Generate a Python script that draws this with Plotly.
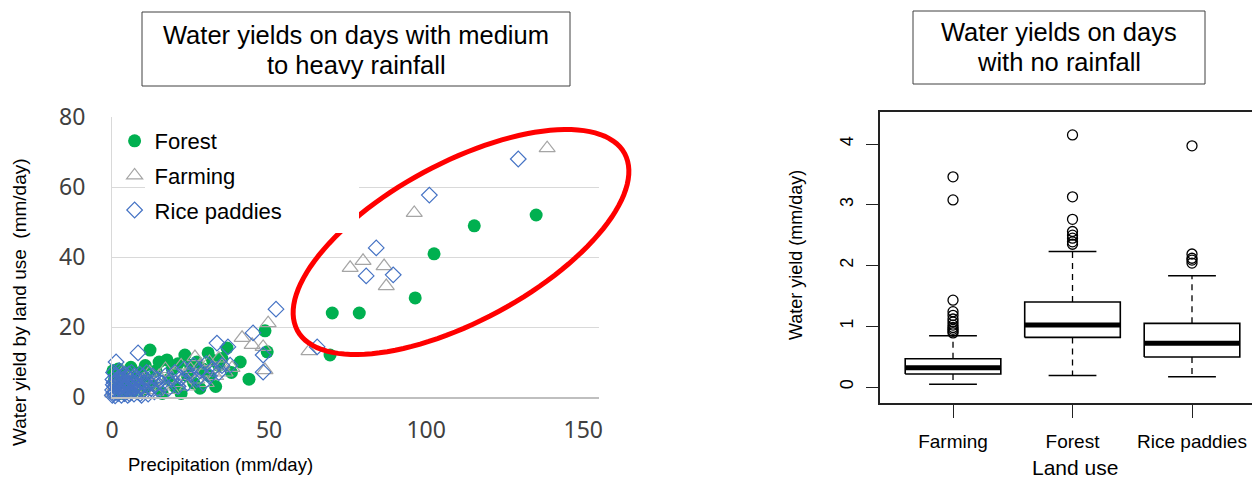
import math
import plotly.graph_objects as go

W, H = 1260, 480
OFF = 8  # page offset of the figure inside the browser window


def sx(px):
    return (px - OFF) / W


def sy(py):
    return 1 - (py - OFF) / H


# ---------------- Left chart data (precipitation vs water yield) ----------------
forest_precip = [0.3, 0.8, 1.5, 2.0, 2.6, 3.0, 4.0, 4.6, 5.2, 6.0, 6.6, 7.2, 8.0, 9.0, 10.0,
                 10.6, 11.2, 12.1, 13.0, 14.0, 15.0, 16.0, 17.5, 18.0, 19.2, 20.0, 21.0, 22.0,
                 23.2, 24.0, 25.0, 26.0, 27.0, 28.0, 29.0, 30.6, 31.0, 32.0, 33.0, 34.0, 35.0,
                 36.6, 38.0, 40.8, 43.6, 48.7, 49.4, 69.4, 70.1, 78.7, 96.5, 102.5, 115.3, 135.0]
forest_yield = [7.5, 5.0, 3.0, 8.0, 1.0, 6.0, 2.0, 7.0, 4.0, 8.5, 1.5, 5.5, 3.0, 7.0, 2.0,
                9.0, 5.0, 13.4, 3.5, 7.5, 10.0, 1.0, 10.6, 5.0, 8.0, 3.0, 9.5, 1.0,
                12.0, 6.0, 9.0, 4.0, 10.0, 2.5, 8.0, 12.6, 6.0, 10.5, 3.0, 9.0, 11.0,
                14.0, 7.0, 10.0, 5.1, 18.9, 12.9, 12.0, 24.0, 24.0, 28.3, 40.9, 48.9, 52.0]

farming_precip = [0.3, 1.0, 1.5, 2.0, 3.0, 3.5, 4.0, 5.0, 6.0, 7.0, 8.0, 9.0, 10.0, 11.0,
                  12.0, 13.0, 14.0, 15.0, 16.0, 17.0, 18.0, 19.0, 20.0, 21.0, 22.0, 23.0,
                  24.0, 25.0, 26.4, 27.0, 28.0, 29.0, 30.0, 31.0, 32.0, 33.0, 34.0, 35.0,
                  36.0, 38.2, 41.4, 44.6, 48.1, 48.7, 49.7, 62.7, 75.8, 79.9, 86.6, 87.3,
                  96.2, 138.5]
farming_yield = [1.0, 3.0, 0.5, 5.5, 2.0, 7.0, 0.8, 4.0, 2.0, 6.0, 1.0, 3.5, 5.0, 2.0,
                 7.0, 4.0, 1.5, 6.0, 3.0, 8.0, 5.0, 2.0, 7.0, 4.0, 9.0, 6.0,
                 3.0, 8.0, 11.4, 5.0, 9.0, 7.0, 4.0, 10.0, 8.0, 6.0, 11.0, 9.0,
                 7.0, 8.3, 16.9, 14.9, 14.3, 7.7, 21.1, 13.1, 36.9, 38.9, 37.4, 31.7,
                 52.6, 71.1]

rice_precip = [0.1, 0.2, 0.4, 0.3, 0.5, 1.0, 1.1, 0.9, 1.2, 1.3, 1.9, 2.1, 2.0, 2.2, 2.3,
               3.0, 2.9, 3.1, 3.2, 4.0, 4.1, 3.9, 4.2, 5.0, 5.1, 4.9, 5.2, 6.0, 6.1, 5.9,
               6.2, 7.0, 7.1, 6.9, 7.2, 8.0, 8.1, 7.9, 9.0, 9.1, 8.9, 10.0, 10.2, 9.9,
               0.6, 1.6, 2.6, 3.6, 4.6, 5.6, 6.6, 7.6, 8.6, 9.6, 0.7, 1.7, 3.4, 5.4, 7.4, 9.4,
               11.0, 11.5, 12.0, 12.5, 13.0, 13.5, 14.0, 14.5, 15.0, 16.0, 17.0, 18.0,
               19.0, 20.0, 21.0, 22.0, 23.0, 24.0, 25.0, 26.0, 27.0, 28.0, 29.0, 30.0,
               31.0, 32.0, 33.4, 34.0, 35.0, 36.9, 37.6, 1.3, 8.3, 44.9, 48.1, 48.1,
               52.2, 65.3, 80.9, 84.1, 89.5, 101.0, 129.3]
rice_yield = [0.5, 2.0, 3.5, 5.0, 7.0, 0.3, 1.5, 3.0, 4.5, 6.0, 1.0, 2.5, 4.0, 5.5, 7.5,
              0.5, 2.0, 3.5, 6.0, 1.0, 3.0, 4.5, 6.5, 0.5, 2.0, 4.0, 5.5, 1.5, 3.0, 5.0,
              7.0, 0.8, 2.5, 4.0, 6.0, 1.5, 3.5, 5.5, 1.0, 3.0, 6.5, 2.0, 4.0, 6.0,
              1.2, 2.2, 3.2, 1.6, 2.8, 0.9, 2.2, 3.1, 2.4, 4.8, 4.2, 5.2, 5.0, 6.6, 5.0, 0.5,
              7.0, 0.8, 4.0, 2.5, 6.0, 1.5, 3.5, 5.0, 2.0, 4.0, 6.0, 2.5,
              5.0, 7.0, 3.0, 5.5, 8.0, 4.0, 6.5, 9.0, 5.0, 7.5, 4.0, 9.5,
              6.0, 8.0, 15.4, 7.0, 9.0, 14.3, 9.1, 10.0, 12.6, 18.3, 12.0, 7.1,
              25.1, 14.3, 34.6, 42.6, 34.9, 57.7, 68.0]

# ---------------- Right chart data (box plot summary) ----------------
land_use = ["Farming", "Forest", "Rice paddies"]
box_lower = [0.045, 0.19, 0.17]
box_q1 = [0.215, 0.817, 0.494]
box_median = [0.318, 1.02, 0.719]
box_q3 = [0.466, 1.40, 1.048]
box_upper = [0.845, 2.23, 1.83]
outliers = [
    [3.46, 3.08, 1.43, 1.24, 1.18, 1.12, 1.07, 1.02, 0.98, 0.95, 0.92, 0.89],
    [4.15, 3.13, 2.76, 2.56, 2.50, 2.45, 2.39, 2.35],
    [3.97, 2.19, 2.12, 2.09, 2.04],
]

left_xticks = [0, 50, 100, 150]
left_yticks = [0, 20, 40, 60, 80]
right_yticks = [0, 1, 2, 3, 4]

GREEN = "#00B050"
GREY = "#A5A5A5"
BLUE = "#4472C4"
SANS = "Liberation Sans, Arial, sans-serif"
TICKF = "Noto Sans, Open Sans, sans-serif"

fig = go.Figure()

fig.add_trace(go.Scatter(x=forest_precip, y=forest_yield, mode="markers", name="Forest",
                         marker=dict(symbol="circle", size=13, color=GREEN),
                         cliponaxis=False, xaxis="x", yaxis="y", legendgroup="a"))
fig.add_trace(go.Scatter(x=farming_precip, y=farming_yield, mode="markers", name="Farming",
                         marker=dict(symbol="triangle-up-open", size=14, color=GREY,
                                     line=dict(width=1.2, color=GREY)),
                         cliponaxis=False, xaxis="x", yaxis="y", legendgroup="b"))
fig.add_trace(go.Scatter(x=rice_precip, y=rice_yield, mode="markers", name="Rice paddies",
                         marker=dict(symbol="diamond-open", size=12, color=BLUE,
                                     line=dict(width=1.2, color=BLUE)),
                         cliponaxis=False, xaxis="x", yaxis="y", legendgroup="c"))

# ---------------- Box plot (R style) ----------------
BW = 0.4
for i, name in enumerate(land_use):
    c = i + 1
    fig.add_trace(go.Scatter(x=[c, c, None, c, c],
                             y=[box_q3[i], box_upper[i], None, box_q1[i], box_lower[i]],
                             mode="lines", line=dict(color="black", width=1.3, dash="6px,5px"),
                             showlegend=False, xaxis="x2", yaxis="y2", hoverinfo="skip"))
    fig.add_trace(go.Scatter(x=[c - BW / 2, c + BW / 2, None, c - BW / 2, c + BW / 2],
                             y=[box_upper[i], box_upper[i], None, box_lower[i], box_lower[i]],
                             mode="lines", line=dict(color="black", width=1.5),
                             showlegend=False, xaxis="x2", yaxis="y2", hoverinfo="skip"))
    fig.add_trace(go.Scatter(x=[c - BW, c + BW, c + BW, c - BW, c - BW],
                             y=[box_q1[i], box_q1[i], box_q3[i], box_q3[i], box_q1[i]],
                             mode="lines", fill="toself", fillcolor="white",
                             line=dict(color="black", width=1.6),
                             showlegend=False, xaxis="x2", yaxis="y2", hoverinfo="skip"))
    fig.add_trace(go.Scatter(x=[c - BW, c + BW], y=[box_median[i], box_median[i]],
                             mode="lines", line=dict(color="black", width=5),
                             showlegend=False, xaxis="x2", yaxis="y2", hoverinfo="skip"))
    fig.add_trace(go.Scatter(x=[c] * len(outliers[i]), y=outliers[i], mode="markers",
                             marker=dict(symbol="circle-open", size=10, color="black",
                                         line=dict(width=1.3, color="black")),
                             showlegend=False, xaxis="x2", yaxis="y2", cliponaxis=False))

# ---------------- Red ellipse (highlight), legend mask and title boxes ----------------
cx, cy, a, b, th = 461, 242, 186, 79, math.radians(28.4)
pts = []
for k in range(121):
    t = 2 * math.pi * k / 120
    px = cx + a * math.cos(t) * math.cos(th) - b * math.sin(t) * math.sin(th)
    py = cy - (a * math.cos(t) * math.sin(th) + b * math.sin(t) * math.cos(th))
    pts.append((sx(px), sy(py)))
path = "M " + " L ".join(f"{x:.5f},{y:.5f}" for x, y in pts) + " Z"

shapes = [
    dict(type="path", xref="paper", yref="paper", path=path, layer="above",
         line=dict(color="#FF0000", width=5)),
    dict(type="rect", xref="paper", yref="paper", x0=sx(145), x1=sx(359),
         y0=sy(233), y1=sy(119), fillcolor="white", line=dict(width=0), layer="above"),
    dict(type="rect", xref="paper", yref="paper", x0=sx(142), x1=sx(570),
         y0=sy(86), y1=sy(12), fillcolor="white", line=dict(color="#404040", width=1),
         layer="above"),
    dict(type="rect", xref="paper", yref="paper", x0=sx(913), x1=sx(1205),
         y0=sy(84), y1=sy(11), fillcolor="white", line=dict(color="#404040", width=1),
         layer="above"),
]


def label(text, x, y, size, angle=0, family=SANS):
    return dict(text=text, xref="paper", yref="paper", x=sx(x), y=sy(y), textangle=angle,
                showarrow=False, xanchor="center", yanchor="middle", borderpad=0,
                font=dict(family=family, size=size, color="black"))


annotations = [
    label("Water yields on days with medium", 356, 35, 25.5),
    label("to heavy rainfall", 356, 65, 25.5),
    label("Water yields on days", 1059, 32, 25.5),
    label("with no rainfall", 1059, 62, 25.5),
    label("Water yield by land use  (mm/day)", 19, 302, 19, -90),
    label("Precipitation (mm/day)", 220, 464, 18.5),
    label("Water yield (mm/day)", 796, 255, 18, -90),
    label("Land use", 1075, 467, 21),
]

fig.update_layout(
    width=W, height=H,
    margin=dict(l=0, r=0, t=0, b=0, autoexpand=False),
    paper_bgcolor="white", plot_bgcolor="white",
    showlegend=True,
    legend=dict(x=sx(114.6), y=sy(120), xanchor="left", yanchor="top",
                bgcolor="rgba(0,0,0,0)", font=dict(family=SANS, size=22, color="black"),
                tracegroupgap=3, traceorder="grouped", itemsizing="trace"),
    xaxis=dict(domain=[sx(112), sx(599)], range=[0, 155], tickvals=left_xticks,
               showgrid=False, zeroline=False, showline=True, linecolor="#BFBFBF", linewidth=2,
               ticks="", tickfont=dict(family=TICKF, size=23, color="#404040"),
               ticklabelstandoff=11, anchor="y", automargin=False),
    yaxis=dict(domain=[sy(397), sy(117)], range=[0, 80], tickvals=left_yticks,
               showgrid=True, gridcolor="#D9D9D9", gridwidth=1, zeroline=False,
               showline=True, linecolor="#D9D9D9", linewidth=1,
               ticks="", tickfont=dict(family=TICKF, size=23, color="#404040"),
               ticklabelstandoff=21, anchor="x", automargin=False),
    xaxis2=dict(domain=[sx(880), 1.0], range=[0.389, 3.636], tickvals=[1, 2, 3],
                ticktext=land_use, showgrid=False, zeroline=False, showline=True,
                linecolor="#222", linewidth=1.5, mirror=True, ticks="outside", ticklen=13,
                tickcolor="#222", tickwidth=1.3, ticklabelstandoff=7,
                tickfont=dict(family=SANS, size=19, color="black"), anchor="y2",
                automargin=False),
    yaxis2=dict(domain=[sy(403), sy(112)], range=[-0.263, 4.527], tickvals=right_yticks,
                showgrid=False, zeroline=False, showline=True, linecolor="#222", linewidth=1.5,
                ticks="outside", ticklen=12, tickcolor="#222", tickwidth=1.3, tickangle=-90,
                ticklabelstandoff=6, tickfont=dict(family=SANS, size=18, color="black"),
                anchor="x2", automargin=False),
    shapes=shapes,
    annotations=annotations,
)

fig.write_html("out.html")
